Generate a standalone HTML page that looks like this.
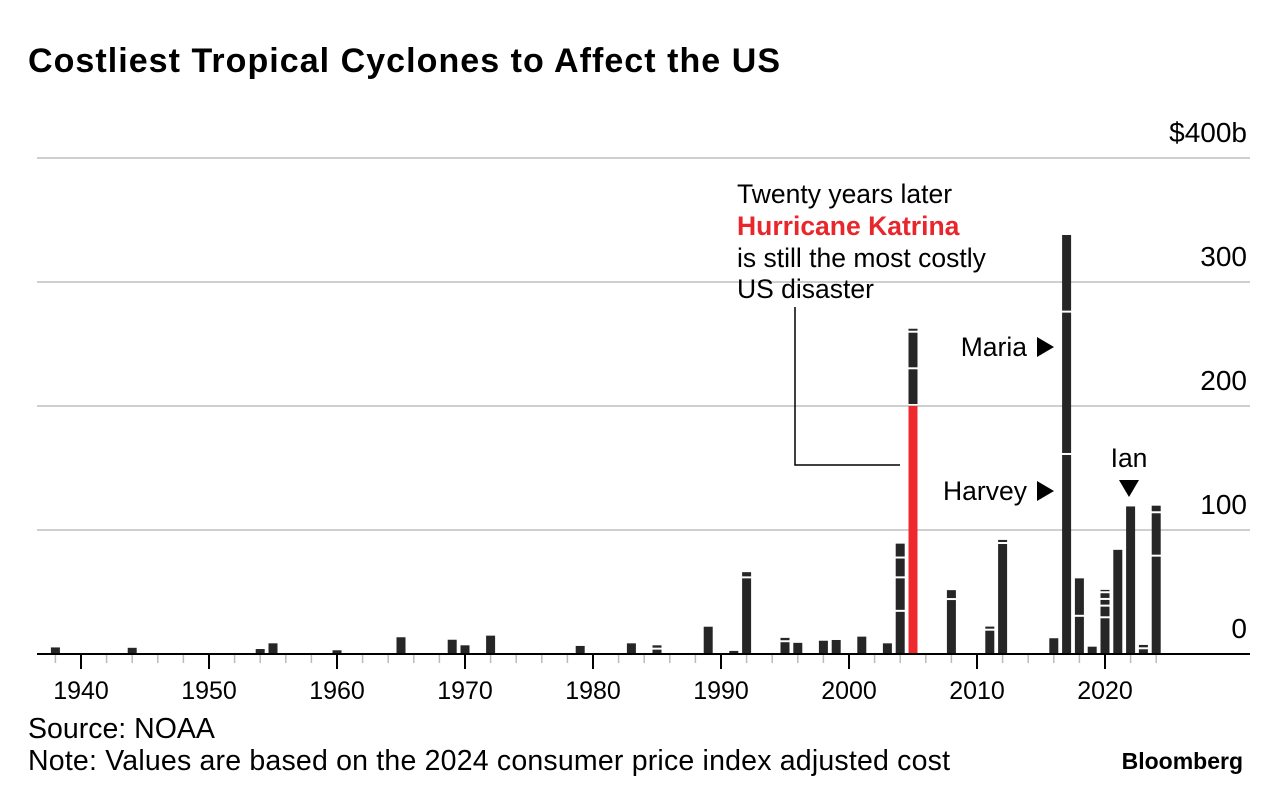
<!DOCTYPE html>
<html><head><meta charset="utf-8"><style>
body{margin:0;background:#fff;width:1280px;height:802px;overflow:hidden;font-family:"Liberation Sans",Arial,sans-serif}
svg{position:absolute;left:0;top:0}
</style></head><body>
<svg id="chart" width="1280" height="802">
<text x="28" y="72" font-size="34" font-weight="bold" fill="#000" textLength="752">Costliest Tropical Cyclones to Affect the US</text>
<g id="grid"></g><g id="bars"></g><g id="axis"></g>
<g>
<text x="737" y="203" font-size="26.5" fill="#000">Twenty years later</text>
<text x="737" y="235" font-size="26.5" font-weight="bold" fill="#e8262b">Hurricane Katrina</text>
<text x="737" y="267" font-size="26.5" fill="#000">is still the most costly</text>
<text x="737" y="298" font-size="26.5" fill="#000">US disaster</text>
<polyline points="795,307 795,465 900,465" fill="none" stroke="#000" stroke-width="1.5"/>
</g>
<g><text x="1027" y="356" font-size="26.5" text-anchor="end">Maria</text><polygon points="1037,337 1037,357 1054,347"/></g>
<g><text x="1027" y="500" font-size="26.5" text-anchor="end">Harvey</text><polygon points="1037,481 1037,501 1054,491"/></g>
<g><text x="1129" y="467" font-size="26.5" text-anchor="middle">Ian</text><polygon points="1119,480 1139,480 1129,497"/></g>
<text x="28" y="738" font-size="28.5">Source: NOAA</text>
<text x="28" y="770" font-size="28.5" textLength="922">Note: Values are based on the 2024 consumer price index adjusted cost</text>
<text x="1243" y="769" font-size="23" font-weight="bold" text-anchor="end">Bloomberg</text>
</svg>
<script>
const years=[1938,1944,1954,1955,1960,1965,1969,1970,1972,1979,1983,1985,1989,1991,1992,1995,1996,1998,1999,2001,2003,2004,2005,2008,2011,2012,2016,2017,2018,2019,2020,2021,2022,2023,2024];
const segments=[[5.3],[5],[4],[8.6],[3],[13.5],[11.5],[7],[14.8],[6.5],[8.6],[3.5,3.5],[22],[2.5],[61,5],[9.5,3.5],[9],[10.7],[11.3],[14],[8.6],[34,27,16,12],[200,29.6,29.5,3.2],[43.5,8],[18.8,3.3],[88.7,3.3],[12.7],[160.5,114.8,62.6],[30,31],[5.9],[28.8,9.4,5.4,5.4,2.7],[84],[119],[3.8,3.5],[78.5,35,6.1]];
const highlightYear=2005;
const yTicks=[0,100,200,300,400];
const yTickLabels=["0","100","200","300","$400b"];
const xTicks=[1940,1950,1960,1970,1980,1990,2000,2010,2020];
const NS="http://www.w3.org/2000/svg";
const X=y=>81+(y-1940)*12.8;
const Y=v=>654-v*1.24;
function mk(tag,attrs,parent){const e=document.createElementNS(NS,tag);for(const k in attrs)e.setAttribute(k,attrs[k]);parent.appendChild(e);return e;}
const grid=document.getElementById('grid'),bars=document.getElementById('bars'),axis=document.getElementById('axis');
yTicks.forEach((t,i)=>{
  if(t>0){const l=mk('line',{x1:37,x2:1250,y1:Y(t),y2:Y(t),stroke:'#cfcfcf','stroke-width':2},grid);
  
  }
  const tx=mk('text',{x:1247,y:Y(t)-16,'font-size':28,'text-anchor':'end'},grid);
  tx.textContent=yTickLabels[i];
  
  
});
years.forEach((yr,i)=>{
  let acc=0;
  segments[i].forEach((v,j)=>{
    const top=Y(acc+v),bot=Y(acc)-(j>0?2:0);
    const r=mk('rect',{x:X(yr)-4.5,y:top,width:9,height:Math.max(bot-top,1),fill:(yr===highlightYear&&j===0)?'#ee2a2f':'#262626'},bars);
    
    
    acc+=v;
  });
});
for(let y=1938;y<=2024;y+=2){
  const major=y%10===0;
  const t=mk('line',{x1:X(y),x2:X(y),y1:655,y2:major?669:663,stroke:major?'#000':'#bbb','stroke-width':major?2:1.5},axis);
  
  
}
const ax=mk('line',{x1:37,x2:1250,y1:654,y2:654,stroke:'#000','stroke-width':2},axis);


xTicks.forEach(y=>{
  const t=mk('text',{x:X(y),y:699,'font-size':25,'text-anchor':'middle'},axis);
  t.textContent=y;
  
  
});
</script>
</body></html>
